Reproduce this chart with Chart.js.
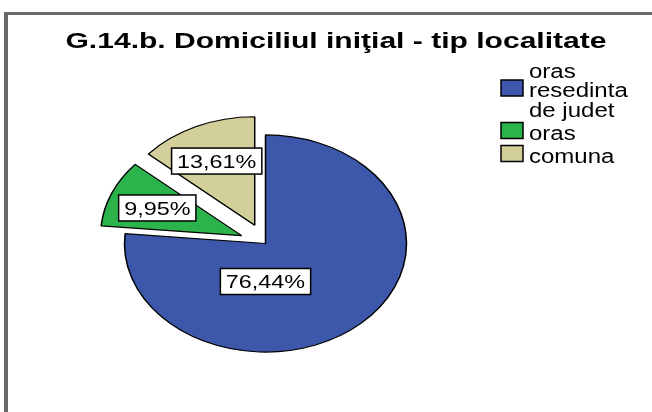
<!DOCTYPE html>
<html>
<head>
<meta charset="utf-8">
<script src="https://cdn.jsdelivr.net/npm/chart.js@4/dist/chart.umd.min.js"></script>
<style>
  html, body { margin: 0; padding: 0; background: #fff; }
  canvas { display: block; }
</style>
</head>
<body>
<canvas id="chart" width="652" height="412"></canvas>
<script>
// data
var categories = [['oras', 'resedinta', 'de judet'], ['oras'], ['comuna']];
var percents = [76.44, 9.95, 13.61];
var colors = ['#3D57AB', '#2DB34B', '#D3CF9B'];
var titleText = 'G.14.b. Domiciliul iniţial - tip localitate';

// look
var squash = 0.77;          // pie is drawn as an ellipse
var explode = [0, 26, 26];  // pulled-out slices
var labelPlace = [{ r: 0.35, deg: 180 }, { r: 0.65 }, { r: 0.65 }];
var textFont = '"Liberation Sans", Arial, sans-serif';

function stretched(ctx, text, x, y, font, sx, align) {
  ctx.save();
  ctx.font = font;
  ctx.textAlign = align || 'left';
  ctx.textBaseline = 'alphabetic';
  ctx.translate(x, y);
  ctx.scale(sx, 1);
  ctx.fillStyle = '#000';
  ctx.fillText(text, 0, 0);
  ctx.restore();
}

var ellipsePie = {
  id: 'ellipsePie',
  beforeDraw: function (chart) {
    var ctx = chart.ctx;
    ctx.save();
    ctx.fillStyle = '#fff';
    ctx.fillRect(0, 0, chart.width, chart.height);
    // frame
    ctx.fillStyle = '#686868';
    ctx.fillRect(4, 12, chart.width - 4, 3);
    ctx.fillRect(4, 12, 4, chart.height - 12);
    ctx.restore();
  },
  beforeDatasetsDraw: function (chart) {
    var ctx = chart.ctx;
    var meta = chart.getDatasetMeta(0);
    var cx = meta.data[0].x, cy = meta.data[0].y;
    ctx.save();
    ctx.translate(cx, cy);
    ctx.scale(1, squash);
    ctx.translate(-cx, -cy);
    meta.data.forEach(function (arc, i) {
      var mid = (arc.startAngle + arc.endAngle) / 2;
      ctx.save();
      ctx.translate(Math.cos(mid) * explode[i], Math.sin(mid) * explode[i]);
      arc.draw(ctx);
      ctx.restore();
    });
    ctx.restore();
    return false;
  },
  afterDraw: function (chart) {
    var ctx = chart.ctx;
    var meta = chart.getDatasetMeta(0);

    // title
    var tf = 'bold 22px ' + textFont;
    ctx.save();
    ctx.font = tf;
    var tw = ctx.measureText(titleText).width;
    ctx.restore();
    stretched(ctx, titleText, 336, 47.5, tf, 541 / tw, 'center');

    // value labels
    var lf = '19px ' + textFont, lsx = 1.23;
    meta.data.forEach(function (arc, i) {
      var mid = (arc.startAngle + arc.endAngle) / 2;
      var R = arc.outerRadius;
      var ax = arc.x + Math.cos(mid) * explode[i];
      var ay = arc.y + Math.sin(mid) * explode[i] * squash;
      var p = labelPlace[i];
      var a = p.deg !== undefined ? (p.deg - 90) * Math.PI / 180 : mid;
      var lx = ax + Math.cos(a) * p.r * R;
      var ly = ay + Math.sin(a) * p.r * R * squash;
      var txt = percents[i].toFixed(2).replace('.', ',') + '%';
      ctx.save();
      ctx.font = lf;
      var w = ctx.measureText(txt).width * lsx + 11;
      var h = 26;
      ctx.fillStyle = '#fff';
      ctx.strokeStyle = '#000';
      ctx.lineWidth = 1.5;
      ctx.fillRect(lx - w / 2, ly - h / 2, w, h);
      ctx.strokeRect(lx - w / 2, ly - h / 2, w, h);
      ctx.restore();
      stretched(ctx, txt, lx, ly + 7, lf, lsx, 'center');
    });

    // legend
    var gf = '20px ' + textFont;
    var y = 77.5, lineH = 19.5, gap = 23;
    categories.forEach(function (lines, i) {
      var first = y;
      lines.forEach(function (t, k) {
        stretched(ctx, t, 529, y, gf, 1.2, 'left');
        if (k < lines.length - 1) y += lineH;
      });
      var boxC = (first + y) / 2 - 9;
      ctx.save();
      ctx.fillStyle = colors[i];
      ctx.strokeStyle = '#000';
      ctx.lineWidth = 1.5;
      ctx.fillRect(501, boxC - 8, 22, 16);
      ctx.strokeRect(501, boxC - 8, 22, 16);
      ctx.restore();
      y += gap;
    });
  }
};

new Chart(document.getElementById('chart').getContext('2d'), {
  type: 'pie',
  data: {
    labels: categories,
    datasets: [{
      data: percents,
      backgroundColor: colors,
      borderColor: '#000',
      borderWidth: 1.5
    }]
  },
  options: {
    responsive: false,
    animation: false,
    devicePixelRatio: 1,
    events: [],
    radius: 141,
    layout: { padding: { left: 0, right: 121, top: 75, bottom: 0 } },
    plugins: {
      legend: { display: false },
      title: { display: false },
      tooltip: { enabled: false }
    }
  },
  plugins: [ellipsePie]
});
</script>
</body>
</html>
